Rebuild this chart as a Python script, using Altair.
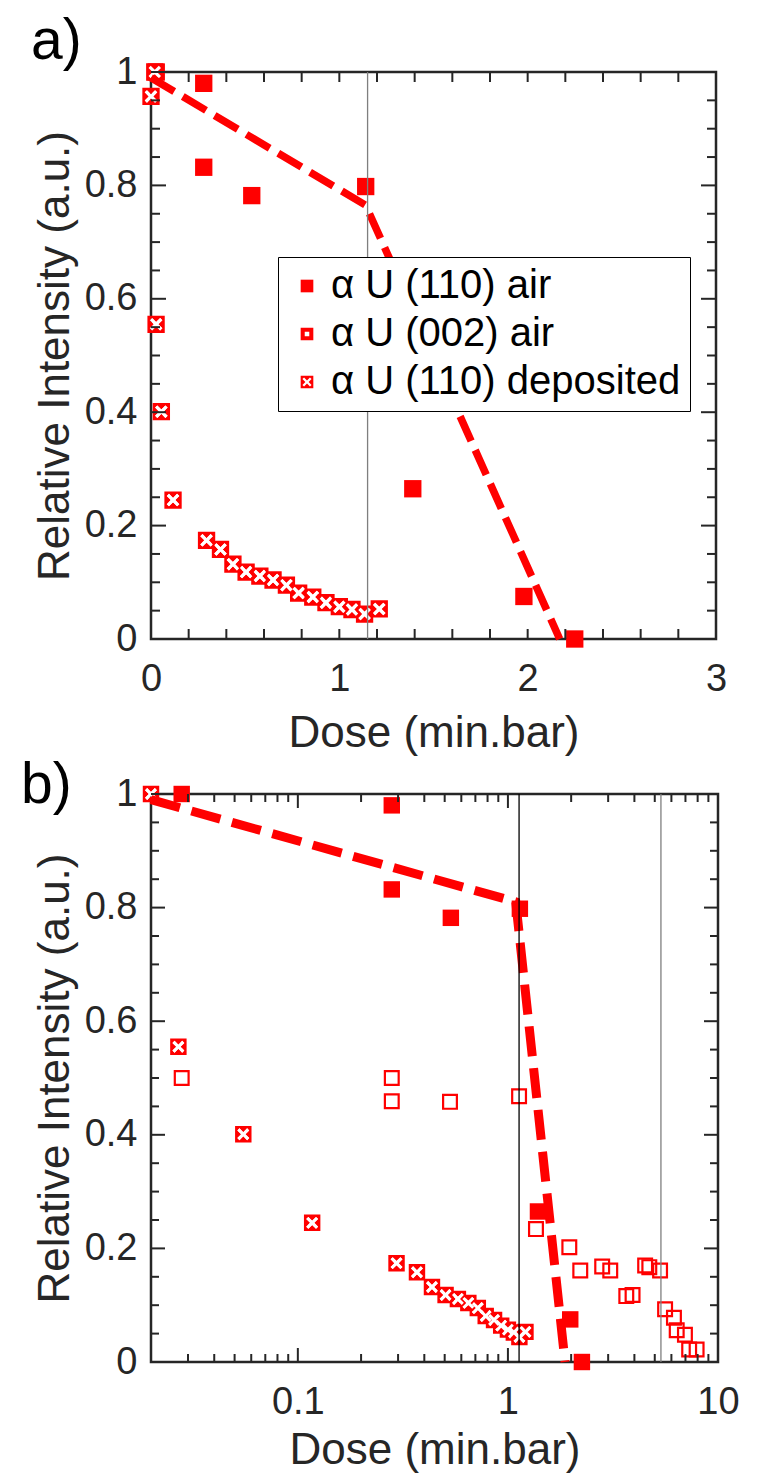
import math
import altair as alt
import pandas as pd

# ---------------- data ----------------
series_names = ["α U (110) air", "α U (002) air", "α U (110) deposited"]

air110_x = [0.028, 0.28, 0.28, 0.535, 1.14, 1.39, 1.98, 2.25]
air110_y = [1.0, 0.98, 0.832, 0.782, 0.798, 0.265, 0.075, 0.0]

air002_x = [0.028, 0.28, 0.28, 0.53, 1.13, 1.36, 1.96, 2.21, 2.81, 3.07, 3.66,
            3.92, 4.50, 4.71, 5.30, 5.60, 6.17, 6.36, 6.96, 7.29, 7.91]
air002_y = [0.50, 0.50, 0.459, 0.458, 0.468, 0.234, 0.202, 0.161, 0.168, 0.161, 0.116,
            0.118, 0.170, 0.167, 0.161, 0.093, 0.078, 0.056, 0.048, 0.022, 0.022]

dep110_x = [0.0, 0.02, 0.027, 0.055, 0.117, 0.295, 0.369, 0.435, 0.505, 0.578,
            0.648, 0.719, 0.784, 0.859, 0.929, 1.0, 1.067, 1.134, 1.212]
dep110_y = [0.957, 1.0, 0.555, 0.401, 0.245, 0.174, 0.158, 0.132, 0.118, 0.111,
            0.104, 0.095, 0.081, 0.074, 0.064, 0.057, 0.052, 0.044, 0.053]

fit_a_x = [0.0, 1.14, 2.17]
fit_a_y = [0.99, 0.765, 0.0]
fit_b_x = [0.02, 1.09, 1.87]
fit_b_y = [0.99, 0.81, 0.0]

vline_a = [1.15]
vline_b_dark = [1.13]
vline_b_grey = [5.35]

# axis ticks / labels
y_major = [0, 0.2, 0.4, 0.6, 0.8, 1]
y_minor = [0.05, 0.1, 0.15, 0.25, 0.3, 0.35, 0.45, 0.5, 0.55, 0.65, 0.7, 0.75, 0.85, 0.9, 0.95]
xa_labels = [0, 1, 2, 3]
xa_ticks = [0.2, 0.4, 0.6, 0.8, 1, 1.2, 1.4, 1.6, 1.8, 2, 2.2, 2.4, 2.6, 2.8]
xb_major = [0.1, 1, 10]
xb_minor = [0.03, 0.04, 0.05, 0.06, 0.07, 0.08, 0.09,
            0.2, 0.3, 0.4, 0.5, 0.6, 0.7, 0.8, 0.9,
            2, 3, 4, 5, 6, 7, 8, 9]

# ---------------- styles ----------------
RED = "#ff0000"
AX = "#262626"
FONT = "Liberation Sans"


def poly_path(pts):
    return "M" + "L".join(f"{x:.3f},{y:.3f}" for x, y in pts) + "Z"


_w, _l = 0.18, 0.84
_plus = [(-_w, -_l), (_w, -_l), (_w, -_w), (_l, -_w), (_l, _w), (_w, _w), (_w, _l),
         (-_w, _l), (-_w, _w), (-_l, _w), (-_l, -_w), (-_w, -_w)]
_r = 1 / math.sqrt(2)
_xshape = [((x - y) * _r, (x + y) * _r) for x, y in _plus]
SQUARE = "M-1,-1L1,-1L1,1L-1,1Z"
XFILL = poly_path(_xshape)
XHOLE = SQUARE + poly_path(_xshape[::-1])
RING = SQUARE + "M-0.36,-0.36L-0.36,0.36L0.36,0.36L0.36,-0.36Z"

axis_common = dict(ticks=False, tickSize=0, domain=False, grid=False,
                   labelFont=FONT, titleFont=FONT, labelFontSize=38, titleFontSize=44,
                   labelColor=AX, titleColor=AX, titleFontWeight="normal",
                   labelFlush=False, labelOverlap=False, format="~g")

Y_AXIS = alt.Axis(title="Relative Intensity (a.u.)", values=y_major, labelPadding=14,
                  titlePadding=7, **axis_common)
XA_AXIS = alt.Axis(title="Dose (min.bar)", values=xa_labels, labelPadding=21, titlePadding=13,
                   **axis_common)
XB_AXIS = alt.Axis(title="Dose (min.bar)", values=xb_major, labelPadding=21, titlePadding=7,
                   **axis_common)


def xy_df(xs, ys):
    return pd.DataFrame({"x": xs, "y": ys})


def tick_layers(xs, ys, xaxis, x_sets, y_sets, W, H):
    out = []
    for vals, L in x_sets:
        d = pd.DataFrame({"x": vals})
        base = alt.Chart(d).mark_rule(color=AX, strokeWidth=2)
        xe = alt.X("x:Q", scale=xs, axis=xaxis)
        out.append(base.encode(x=xe, y=alt.value(H), y2=alt.value(H - L)))
        out.append(base.encode(x=xe, y=alt.value(0), y2=alt.value(L)))
    for vals, L in y_sets:
        d = pd.DataFrame({"y": vals})
        base = alt.Chart(d).mark_rule(color=AX, strokeWidth=2)
        ye = alt.Y("y:Q", scale=ys, axis=Y_AXIS)
        out.append(base.encode(y=ye, x=alt.value(0), x2=alt.value(L)))
        out.append(base.encode(y=ye, x=alt.value(W), x2=alt.value(W - L)))
    return out


def vrule(vals, xs, xaxis, color):
    return alt.Chart(pd.DataFrame({"x": vals})).mark_rule(color=color, strokeWidth=1.3).encode(
        x=alt.X("x:Q", scale=xs, axis=xaxis))


def fitline(xv, yv, xs, ys, xaxis, width, dash):
    return alt.Chart(xy_df(xv, yv)).mark_line(color=RED, strokeWidth=width, strokeDash=dash,
                                               strokeCap="butt").encode(
        x=alt.X("x:Q", scale=xs, axis=xaxis), y=alt.Y("y:Q", scale=ys, axis=Y_AXIS))


def points(xv, yv, xs, ys, xaxis, **mk):
    return alt.Chart(xy_df(xv, yv)).mark_point(opacity=1, **mk).encode(
        x=alt.X("x:Q", scale=xs, axis=xaxis), y=alt.Y("y:Q", scale=ys, axis=Y_AXIS))


# ---------------- panel a ----------------
WA, HA = 565, 567
xa = alt.Scale(domain=[0, 3], nice=False, zero=False)
ya = alt.Scale(domain=[0, 1], nice=False, zero=False)

marks_a = pd.concat([
    xy_df(air110_x, air110_y).assign(s=series_names[0]),
    xy_df(dep110_x, dep110_y).assign(s=series_names[2]),
], ignore_index=True)

main_a = alt.Chart(marks_a).mark_point(filled=True, color=RED, size=300, opacity=1, strokeWidth=0).encode(
    x=alt.X("x:Q", scale=xa, axis=XA_AXIS),
    y=alt.Y("y:Q", scale=ya, axis=Y_AXIS),
    shape=alt.Shape("s:N", scale=alt.Scale(domain=series_names, range=[SQUARE, RING, XHOLE]),
                    legend=alt.Legend(title=None, orient="none", legendX=127, legendY=185,
                                      labelFont=FONT, labelFontSize=40, labelColor="black",
                                      symbolSize=160, symbolFillColor=RED, symbolStrokeWidth=0,
                                      padding=9, rowPadding=8, labelOffset=4, labelLimit=0,
                                      strokeColor="black", fillColor="white")),
)

panel_a = alt.layer(
    main_a,
    points(dep110_x, dep110_y, xa, ya, XA_AXIS, shape=XFILL, filled=True, color="white",
           size=300, strokeWidth=0),
    fitline(fit_a_x, fit_a_y, xa, ya, XA_AXIS, 7.5, [27, 10]),
    vrule(vline_a, xa, XA_AXIS, "#7f7f7f"),
    *tick_layers(xa, ya, XA_AXIS, [(xa_ticks, 10)], [(y_major, 15), (y_minor, 9)], WA, HA),
).properties(
    width=WA, height=HA,
    title=alt.TitleParams("a)", anchor="start", frame="group", fontSize=57, font=FONT,
                          fontWeight="normal", color="black", dx=-120, offset=-18),
)

# ---------------- panel b ----------------
WB, HB = 567, 568
xb = alt.Scale(type="log", domain=[0.02, 10], nice=False)
yb = alt.Scale(domain=[0, 1], nice=False, zero=False)

dep_b_x = [x for x in dep110_x if x > 0]
dep_b_y = [y for x, y in zip(dep110_x, dep110_y) if x > 0]

panel_b = alt.layer(
    points(air002_x, air002_y, xb, yb, XB_AXIS, shape="square", filled=False, color=RED,
           size=190, strokeWidth=2.2),
    points(air110_x, air110_y, xb, yb, XB_AXIS, shape="square", filled=True, color=RED,
           size=270, strokeWidth=0),
    points(dep_b_x, dep_b_y, xb, yb, XB_AXIS, shape=XHOLE, filled=True, color=RED,
           size=270, strokeWidth=0),
    points(dep_b_x, dep_b_y, xb, yb, XB_AXIS, shape=XFILL, filled=True, color="white",
           size=270, strokeWidth=0),
    fitline(fit_b_x, fit_b_y, xb, yb, XB_AXIS, 9, [30, 12]),
    vrule(vline_b_dark, xb, XB_AXIS, "black"),
    vrule(vline_b_grey, xb, XB_AXIS, "#7f7f7f"),
    *tick_layers(xb, yb, XB_AXIS, [(xb_major, 14), (xb_minor, 8)], [(y_major, 14), (y_minor, 8)],
                 WB, HB),
).properties(
    width=WB, height=HB,
    title=alt.TitleParams("b)", anchor="start", frame="group", fontSize=57, font=FONT,
                          fontWeight="normal", color="black", dx=-130, dy=40, offset=0),
)

chart = alt.vconcat(panel_a, panel_b, spacing=155, bounds="flush").properties(
    padding={"left": 11, "top": 3, "right": 10, "bottom": 0}
).configure_view(stroke=AX, strokeWidth=2.5)

chart.save("out.html", embed_options={"renderer": "svg", "actions": False})
